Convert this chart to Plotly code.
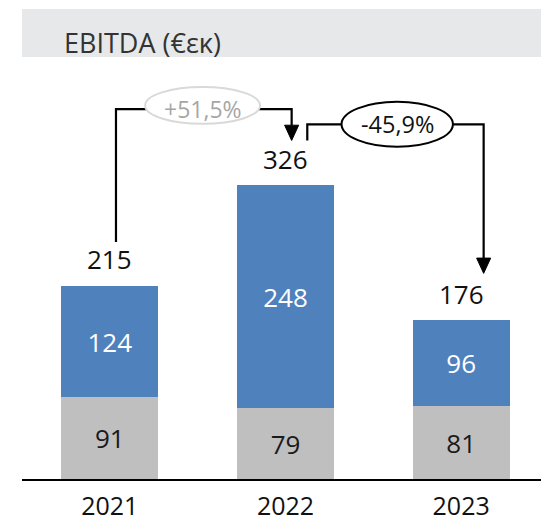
import plotly.graph_objects as go

years = ["2021", "2022", "2023"]
base_vals = [91, 79, 81]        # gray segment
top_vals = [124, 248, 96]       # blue segment
totals = [215, 326, 176]
change_labels = ["+51,5%", "-45,9%"]
title_text = "EBITDA (€εκ)"

FONT = "Open Sans"
BLUE = "#4F81BD"
GRAY = "#BFBFBF"

xs = list(range(len(years)))

fig = go.Figure()
fig.add_trace(go.Bar(
    x=xs, y=base_vals, marker=dict(color=GRAY, line=dict(width=0)),
    text=[str(v) for v in base_vals], textposition="inside",
    insidetextanchor="middle", textangle=0, constraintext="none",
    textfont=dict(family=FONT, size=26, color="#1a1a1a"),
    hoverinfo="skip", showlegend=False))
fig.add_trace(go.Bar(
    x=xs, y=top_vals, marker=dict(color=BLUE, line=dict(width=0)),
    text=[str(v) for v in top_vals], textposition="inside",
    insidetextanchor="middle", textangle=0, constraintext="none",
    textfont=dict(family=FONT, size=26, color="white"),
    hoverinfo="skip", showlegend=False))

# totals
for i, t in enumerate(totals):
    fig.add_annotation(x=xs[i], y=t, text=str(t), showarrow=False,
                       yanchor="bottom", yshift=7,
                       font=dict(family=FONT, size=26, color="#111"))

# arrows
gap = 50
hx = 0.035
h1 = max(totals) + 86
h2 = max(totals) + 69
ah_h = 17     # arrowhead height (data units)
ah_w = 0.04   # arrowhead half-width (x units)

def arrow_path(x_start, y_start, y_level, x_end, y_tip):
    return (f"M {x_start},{y_start} L {x_start},{y_level} L {x_end},{y_level} "
            f"L {x_end},{y_tip + ah_h}")

def head_path(x_end, y_tip):
    return (f"M {x_end - ah_w},{y_tip + ah_h} L {x_end + ah_w},{y_tip + ah_h} "
            f"L {x_end},{y_tip} Z")

# arrow 1: 2021 -> 2022
a1_x0 = xs[0] + hx
a1_x1 = xs[1] + hx
a1_y0 = totals[0] + gap - 1
a1_tip = totals[1] + gap + 1
# arrow 2: 2022 -> 2023
a2_x0 = xs[1] + 0.124
a2_x1 = xs[2] + 0.128
a2_y0 = totals[1] + gap + 1
a2_tip = totals[2] + gap + 3

for (x0, y0, lvl, x1, tip) in [(a1_x0, a1_y0, h1, a1_x1, a1_tip),
                                (a2_x0, a2_y0, h2, a2_x1, a2_tip)]:
    fig.add_shape(type="path", path=arrow_path(x0, y0, lvl, x1, tip),
                  xref="x", yref="y", line=dict(color="black", width=2.2),
                  layer="above")
    fig.add_shape(type="path", path=head_path(x1, tip),
                  xref="x", yref="y", line=dict(color="black", width=1),
                  fillcolor="black", layer="above")

# ellipses
e1_cx = (xs[0] + xs[1]) / 2 + 0.028
e1_cy = h1 + 4
fig.add_shape(type="circle", xref="x", yref="y",
              x0=e1_cx - 0.327, x1=e1_cx + 0.327,
              y0=e1_cy - 20.5, y1=e1_cy + 20.5,
              fillcolor="white", line=dict(color="#D9D9D9", width=2),
              layer="above")
fig.add_annotation(x=e1_cx, y=h1, text=change_labels[0], showarrow=False,
                   font=dict(family=FONT, size=23, color="#A6A6A6"))

e2_cx = (xs[1] + xs[2]) / 2 + 0.136
e2_cy = h2
fig.add_shape(type="circle", xref="x", yref="y",
              x0=e2_cx - 0.317, x1=e2_cx + 0.317,
              y0=e2_cy - 25, y1=e2_cy + 25,
              fillcolor="white", line=dict(color="black", width=2),
              layer="above")
fig.add_annotation(x=e2_cx, y=h2, text=change_labels[1], showarrow=False,
                   font=dict(family=FONT, size=23.5, color="#111"))

# title band
fig.add_shape(type="rect", xref="paper", yref="paper",
              x0=0, x1=1.01, y0=1.0072, y1=1.1217,
              fillcolor="#E7E8EA", line=dict(width=0), layer="below")
fig.add_annotation(xref="paper", yref="paper", x=0.0755, y=1.041,
                   xanchor="left", yanchor="middle", text=title_text,
                   showarrow=False,
                   font=dict(family=FONT, size=27, color="#333333"))

fig.update_layout(
    width=541, height=514,
    margin=dict(l=13.5, r=0, t=52, b=43, autoexpand=False),
    barmode="stack", bargap=0.449,
    plot_bgcolor="white", paper_bgcolor="white",
    font=dict(family=FONT),
    xaxis=dict(range=[-0.5, 2.5], tickvals=xs, ticktext=years,
               showgrid=False, zeroline=False, showline=True,
               linecolor="black", linewidth=2, ticks="",
               ticklabelstandoff=4,
               tickfont=dict(family=FONT, size=25, color="#111")),
    yaxis=dict(range=[0, 466.6], visible=False, showgrid=False),
    uniformtext=dict(mode=False),
)

fig.write_html("out.html")
